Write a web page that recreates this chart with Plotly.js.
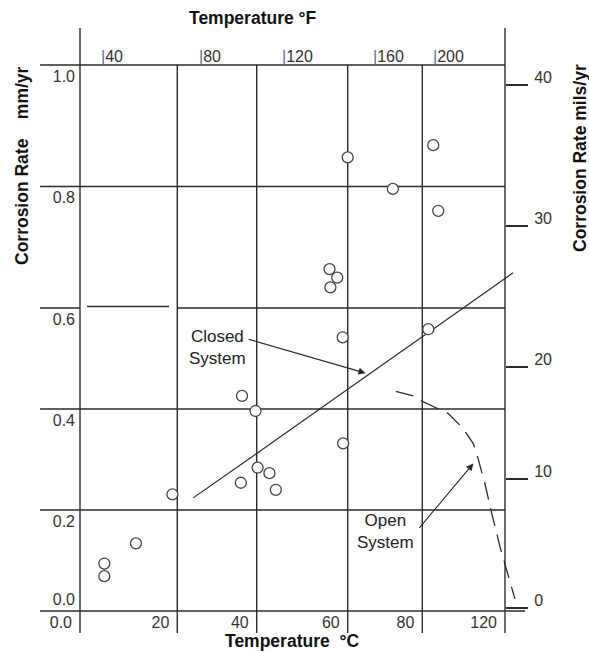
<!DOCTYPE html>
<html><head><meta charset="utf-8">
<script src="https://cdn.plot.ly/plotly-3.0.1.min.js"></script>
<style>html,body{margin:0;padding:0;background:#fff}#chart{width:589px;height:652px}</style>
</head><body><div id="chart"></div>
<script>
// ---------------- data ----------------
var xTickVals = [0, 20, 40, 60, 80, 120];            // °C grid lines
var xTickText = ['0.0', '20', '40', '60', '80', '120'];
var yTickVals = [0.2, 0.4, 0.6, 0.8, 1.0];           // mm/yr grid lines
var yTickText = ['0.2', '0.4', '0.6', '0.8', '1.0'];
var milsTickVals = [0, 10, 20, 30, 40];              // right axis, mils/yr
var fahrenheitLabels = ['40', '80', '120', '160', '200'];

// measured points: temperature (°C) and corrosion rate (mm/yr)
var pointTemp = [60.0, 85.3, 72.1, 87.7, 56.0, 57.7, 56.2, 58.9, 82.9, 36.3,
                 39.7, 40.2, 42.8, 36.0, 44.2, 19.0, 11.5, 5.0, 5.0, 59.0];
var pointRate = [0.848, 0.868, 0.796, 0.760, 0.664, 0.650, 0.634, 0.542, 0.558, 0.426,
                 0.396, 0.284, 0.273, 0.254, 0.240, 0.231, 0.134, 0.094, 0.069, 0.332];

// "Closed System" line, read where it meets the grid lines
var closedTemp = [24.0, 40, 60, 80, 99.8, 123.9];
var closedRate = [0.224, 0.312, 0.439, 0.543, 0.600, 0.658];

// "Open System" dashed curve
var openTemp = [72.9, 77.6, 80, 87.7, 92.6, 99.8, 104.6, 106.3, 110.3, 113.6, 117.6, 124.8];
var openRate = [0.435, 0.426, 0.415, 0.401, 0.391, 0.361, 0.332, 0.312, 0.252, 0.193, 0.127, 0.024];

// ---------------- drawing geometry (layout only) ----------------
var L = 80, R = 525, T = 65, B = 611;       // plot area in px
var PW = R - L, PH = B - T;
var xEdgePx = [80, 177.3, 256.7, 347.7, 422.3, 505];   // drawn x grid lines (irregular, hand-drawn scale)
var y06Px = 308;                                       // drawn 0.6 grid line
var milsPx = [608, 479, 367, 226, 85];                 // drawn mils/yr ticks
var fPx = [98.5, 196.5, 279.5, 371, 430.5];            // left edge of the °F labels

function fx(px) { return (px - L) / PW; }
function fy(py) { return (B - py) / PH; }

var FONT = 'Liberation Sans, Arial, Helvetica, sans-serif';
var INK = '#2b2b2b';
var tickFont = {family: FONT, size: 16, color: '#333'};

var xIds = ['x', 'x2', 'x3', 'x4', 'x5'];
var yIds = ['y', 'y2'];
var xCellLo = [0, 20, 40, 60, 80];
var lastScale = (xEdgePx[5] - xEdgePx[4]) / (120 - 80);  // px per °C in last cell
var xCellHi = [20, 40, 60, 80, 80 + (R - xEdgePx[4]) / lastScale];

function xCell(t) { var k = 0; for (var i = 0; i < xCellLo.length; i++) if (t >= xCellLo[i]) k = i; return k; }
function yCell(r) { return r < 0.6 ? 0 : 1; }

var layout = {
  width: 589, height: 652,
  margin: {l: L, r: 589 - R, t: T, b: 652 - B, pad: 0},
  paper_bgcolor: '#fff', plot_bgcolor: 'rgba(0,0,0,0)',
  showlegend: false, hovermode: false,
  font: {family: FONT, color: '#333'},
  shapes: [], annotations: []
};

for (var i = 0; i < 5; i++) {
  var tv = [], tt = [];
  for (var j = 0; j < xTickVals.length; j++) {
    var v = xTickVals[j];
    if (v >= xCellLo[i] && (v < xCellHi[i] || (i === 4 && v <= xCellHi[i]))) { tv.push(v); tt.push(xTickText[j]); }
  }
  layout[i === 0 ? 'xaxis' : 'xaxis' + (i + 1)] = {
    domain: [fx(xEdgePx[i]), i === 4 ? 1 : fx(xEdgePx[i + 1])],
    range: [xCellLo[i], xCellHi[i]], anchor: 'y',
    showgrid: false, zeroline: false, showline: false, ticks: '',
    tickmode: 'array', tickvals: tv, ticktext: tt, tickfont: tickFont,
    ticklabelposition: 'outside left', ticklabelshift: -8, ticklabelstandoff: 0
  };
}
var yMid = fy(y06Px);
function yTicks(lo, hi) {
  var tv = [], tt = [];
  for (var j = 0; j < yTickVals.length; j++) if (yTickVals[j] >= lo && yTickVals[j] <= hi) { tv.push(yTickVals[j]); tt.push(yTickText[j]); }
  return {tv: tv, tt: tt};
}
var yl = yTicks(0.1, 0.5), yu = yTicks(0.6, 1.0);
var yBase = {showgrid: false, zeroline: false, showline: false, ticks: '', tickmode: 'array',
             tickfont: tickFont, anchor: 'x', side: 'left', ticklabelposition: 'outside bottom',
             ticklabelstandoff: 4};
layout.yaxis = Object.assign({}, yBase, {domain: [0, yMid], range: [0, 0.6], tickvals: yl.tv, ticktext: yl.tt});
layout.yaxis2 = Object.assign({}, yBase, {domain: [yMid, 1], range: [0.6, 1.0], tickvals: yu.tv, ticktext: yu.tt});
layout.yaxis6 = Object.assign({}, yBase, {overlaying: 'y', range: [0, 0.6], tickvals: [0], ticktext: ['0.0'],
                                          ticklabelposition: 'outside top'});

// right mils/yr axis (hand-drawn, irregular): three linear pieces
var milsPieces = [[0, 1, 'yaxis3', [0]], [1, 2, 'yaxis4', [10]], [2, 4, 'yaxis5', [20, 30, 40]]];
milsPieces.forEach(function (p) {
  layout[p[2]] = {
    domain: [fy(milsPx[p[0]]), fy(milsPx[p[1]])],
    range: [milsTickVals[p[0]], milsTickVals[p[1]]],
    anchor: 'free', position: fx(xEdgePx[5]), side: 'right',
    showgrid: false, zeroline: false, showline: false,
    ticks: 'outside', ticklen: 22, tickwidth: 1.3, tickcolor: INK,
    tickmode: 'array', tickvals: p[3], ticktext: p[3].map(String),
    tickfont: tickFont, ticklabelshift: -8, ticklabelstandoff: 3
  };
});

// ---------------- grid / frame lines ----------------
function seg(x0, y0, x1, y1) {
  layout.shapes.push({type: 'line', xref: 'paper', yref: 'paper', x0: fx(x0), x1: fx(x1), y0: fy(y0), y1: fy(y1),
                      line: {color: INK, width: 1.4}, layer: 'below'});
}
xEdgePx.forEach(function (px, k) {
  var top = (k === 0 || k === xEdgePx.length - 1) ? 28 : T;
  seg(px, 633, px, top);
});
function rateToPx(v) { return v <= 0.6 ? B - v / 0.6 * (B - y06Px) : y06Px - (v - 0.6) / 0.4 * (y06Px - T); }
[0].concat(yTickVals).forEach(function (v) {
  var py = rateToPx(v);
  if (Math.abs(v - 0.6) < 1e-9) {
    seg(40, py, xEdgePx[0], py);
    seg(87, py - 1.5, 169, py - 1.5);
    seg(xEdgePx[1], py, xEdgePx[5], py);
  } else {
    seg(40, py, v === 0 ? 525 : xEdgePx[5], py);
  }
});

// ---------------- traces ----------------
var traces = [];
var groups = {};
for (var i = 0; i < pointTemp.length; i++) {
  var key = xCell(pointTemp[i]) + '_' + yCell(pointRate[i]);
  if (!groups[key]) groups[key] = {x: [], y: []};
  groups[key].x.push(pointTemp[i]); groups[key].y.push(pointRate[i]);
}
function axesOf(key) { var p = key.split('_'); return {x: xIds[+p[0]], y: yIds[+p[1]]}; }

function splitLine(tArr, rArr, lineStyle) {
  var segs = [];
  for (var i = 0; i < tArr.length - 1; i++) {
    var key = xCell((tArr[i] + tArr[i + 1]) / 2) + '_' + yCell((rArr[i] + rArr[i + 1]) / 2);
    var last = segs[segs.length - 1];
    if (last && last.key === key) { last.x.push(tArr[i + 1]); last.y.push(rArr[i + 1]); }
    else segs.push({key: key, x: [tArr[i], tArr[i + 1]], y: [rArr[i], rArr[i + 1]]});
  }
  segs.forEach(function (s) {
    var a = axesOf(s.key);
    traces.push({type: 'scatter', mode: 'lines', x: s.x, y: s.y, xaxis: a.x, yaxis: a.y,
                 line: lineStyle, hoverinfo: 'skip'});
  });
}
splitLine(closedTemp, closedRate, {color: INK, width: 1.2});
splitLine(openTemp, openRate, {color: INK, width: 1.3, dash: '18px,9px'});

Object.keys(groups).forEach(function (key) {
  var a = axesOf(key);
  traces.push({type: 'scatter', mode: 'markers', x: groups[key].x, y: groups[key].y,
               xaxis: a.x, yaxis: a.y, cliponaxis: false,
               marker: {symbol: 'circle', size: 11, color: '#fff', line: {color: '#444', width: 1.3}},
               hoverinfo: 'skip'});
});

// empty traces so that the axes carrying only labels get their subplots
[['x5', 'y3'], ['x5', 'y4'], ['x5', 'y5'], ['x', 'y6']].forEach(function (p) {
  traces.push({type: 'scatter', mode: 'markers', x: [], y: [], xaxis: p[0], yaxis: p[1], hoverinfo: 'skip'});
});

// ---------------- text ----------------
var ann = layout.annotations;
var titleFont = {family: FONT, size: 17.5, color: '#111'};
function paperText(px, py, text, extra) {
  ann.push(Object.assign({xref: 'paper', yref: 'paper', x: fx(px), y: fy(py), xanchor: 'center', yanchor: 'middle',
                          text: text, showarrow: false, font: titleFont}, extra || {}));
}
paperText(253, 18, '<b>Temperature °F</b>');
paperText(292, 641, '<b>Temperature\u00a0\u00a0°C</b>');
paperText(22, 166, '<b>Corrosion Rate\u00a0\u00a0\u00a0\u00a0mm/yr</b>', {textangle: -90});
paperText(580, 158, '<b>Corrosion Rate mils/yr</b>', {textangle: -90});
fahrenheitLabels.forEach(function (lab, k) {
  paperText(fPx[k], 56.5, '<span style="color:#5d6f9e">|</span>' + lab, {xanchor: 'left', font: tickFont});
});
var labelFont = {family: FONT, size: 17, color: '#222'};
ann.push({xref: 'x2', yref: 'y', x: 30.0, y: 0.521, xanchor: 'center', yanchor: 'middle', text: 'Closed<br>System', showarrow: false, font: labelFont, align: 'center'});
ann.push({xref: 'x4', yref: 'y', x: 70.0, y: 0.158, xanchor: 'center', yanchor: 'middle', text: 'Open<br>System', showarrow: false, font: labelFont, align: 'center'});
ann.push({xref: 'x4', yref: 'y', x: 64.8, y: 0.471, ax: -121, ay: -35, text: ' ', showarrow: true,
          arrowhead: 2, arrowsize: 1.3, arrowwidth: 1.1, arrowcolor: INK, standoff: 0, font: labelFont});
ann.push({xref: 'x5', yref: 'y', x: 104.7, y: 0.292, ax: -58, ay: 69, text: ' ', showarrow: true,
          arrowhead: 2, arrowsize: 1.3, arrowwidth: 1.1, arrowcolor: INK, standoff: 0, font: labelFont});

Plotly.newPlot('chart', traces, layout, {staticPlot: true, displayModeBar: false});
</script></body></html>
